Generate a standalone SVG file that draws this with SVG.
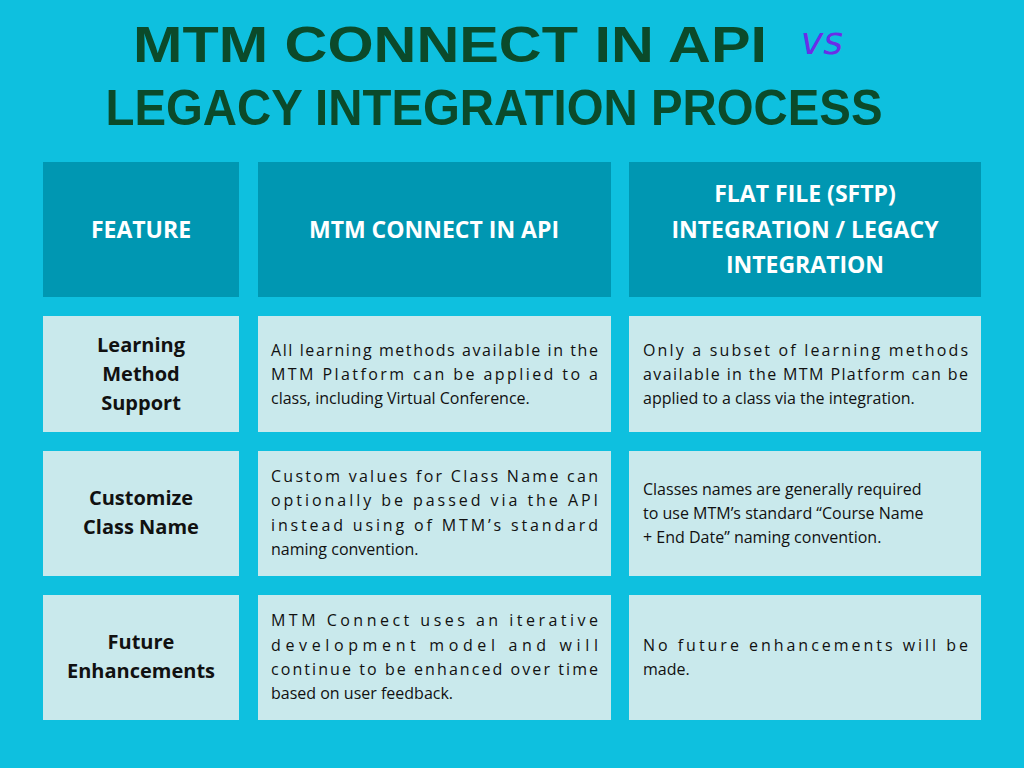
<svg xmlns="http://www.w3.org/2000/svg" width="1024" height="768" viewBox="0 0 1024 768">
<style>
.t{font-family:"Liberation Sans",Arial,sans-serif;font-weight:900;fill:#0b4a2a;font-size:50px}
.h{fill:#0097b2}.c{fill:#c9e9ec}
.ht{font-family:"Open Sans",sans-serif;font-weight:700;fill:#fff;font-size:23px;text-anchor:middle}
.ft{font-family:"Open Sans",sans-serif;font-weight:700;fill:#111;font-size:20px;text-anchor:middle}
.b{font-family:"Open Sans",sans-serif;fill:#111;font-size:16px}
</style>
<rect width="1024" height="768" fill="#0ec0df"/>
<g id="title">
<text class="t" x="450" y="62" text-anchor="middle" textLength="634" lengthAdjust="spacingAndGlyphs">MTM CONNECT IN API</text>
<text x="822" y="54" text-anchor="middle" font-family="'DejaVu Sans',sans-serif" font-style="italic" font-size="38" fill="#6a2ee8">vs</text>
<text class="t" x="494" y="125" text-anchor="middle" textLength="777" lengthAdjust="spacingAndGlyphs">LEGACY INTEGRATION PROCESS</text>
</g>
<g id="header">
<rect class="h" x="43" y="162" width="196" height="135"/>
<rect class="h" x="258" y="162" width="353" height="135"/>
<rect class="h" x="629" y="162" width="352" height="135"/>
<text class="ht" x="141" y="238">FEATURE</text>
<text class="ht" x="434" y="238">MTM CONNECT IN API</text>
<text class="ht" x="805" y="202">FLAT FILE (SFTP)</text>
<text class="ht" x="805" y="238">INTEGRATION / LEGACY</text>
<text class="ht" x="805" y="273">INTEGRATION</text>
</g>
<g id="row1">
<rect class="c" x="43" y="316" width="196" height="116"/>
<rect class="c" x="258" y="316" width="353" height="116"/>
<rect class="c" x="629" y="316" width="352" height="116"/>
<text class="ft" x="141" y="352">Learning</text>
<text class="ft" x="141" y="381">Method</text>
<text class="ft" x="141" y="410">Support</text>
<text class="b" x="271" y="356" textLength="327">All learning methods available in the</text>
<text class="b" x="271" y="380" textLength="327">MTM Platform can be applied to a</text>
<text class="b" x="271" y="404">class, including Virtual Conference.</text>
<text class="b" x="643" y="356" textLength="325">Only a subset of learning methods</text>
<text class="b" x="643" y="380" textLength="325">available in the MTM Platform can be</text>
<text class="b" x="643" y="404">applied to a class via the integration.</text>
</g>
<g id="row2">
<rect class="c" x="43" y="451" width="196" height="125"/>
<rect class="c" x="258" y="451" width="353" height="125"/>
<rect class="c" x="629" y="451" width="352" height="125"/>
<text class="ft" x="141" y="505">Customize</text>
<text class="ft" x="141" y="534">Class Name</text>
<text class="b" x="271" y="482" textLength="327">Custom values for Class Name can</text>
<text class="b" x="271" y="506" textLength="327">optionally be passed via the API</text>
<text class="b" x="271" y="531" textLength="327">instead using of MTM’s standard</text>
<text class="b" x="271" y="555">naming convention.</text>
<text class="b" x="643" y="495">Classes names are generally required</text>
<text class="b" x="643" y="519">to use MTM’s standard “Course Name</text>
<text class="b" x="643" y="543">+ End Date” naming convention.</text>
</g>
<g id="row3">
<rect class="c" x="43" y="595" width="196" height="125"/>
<rect class="c" x="258" y="595" width="353" height="125"/>
<rect class="c" x="629" y="595" width="352" height="125"/>
<text class="ft" x="141" y="649">Future</text>
<text class="ft" x="141" y="678">Enhancements</text>
<text class="b" x="271" y="626" textLength="327">MTM Connect uses an iterative</text>
<text class="b" x="271" y="651" textLength="327">development model and will</text>
<text class="b" x="271" y="675" textLength="327">continue to be enhanced over time</text>
<text class="b" x="271" y="699">based on user feedback.</text>
<text class="b" x="643" y="651" textLength="325">No future enhancements will be</text>
<text class="b" x="643" y="675">made.</text>
</g>
</svg>
